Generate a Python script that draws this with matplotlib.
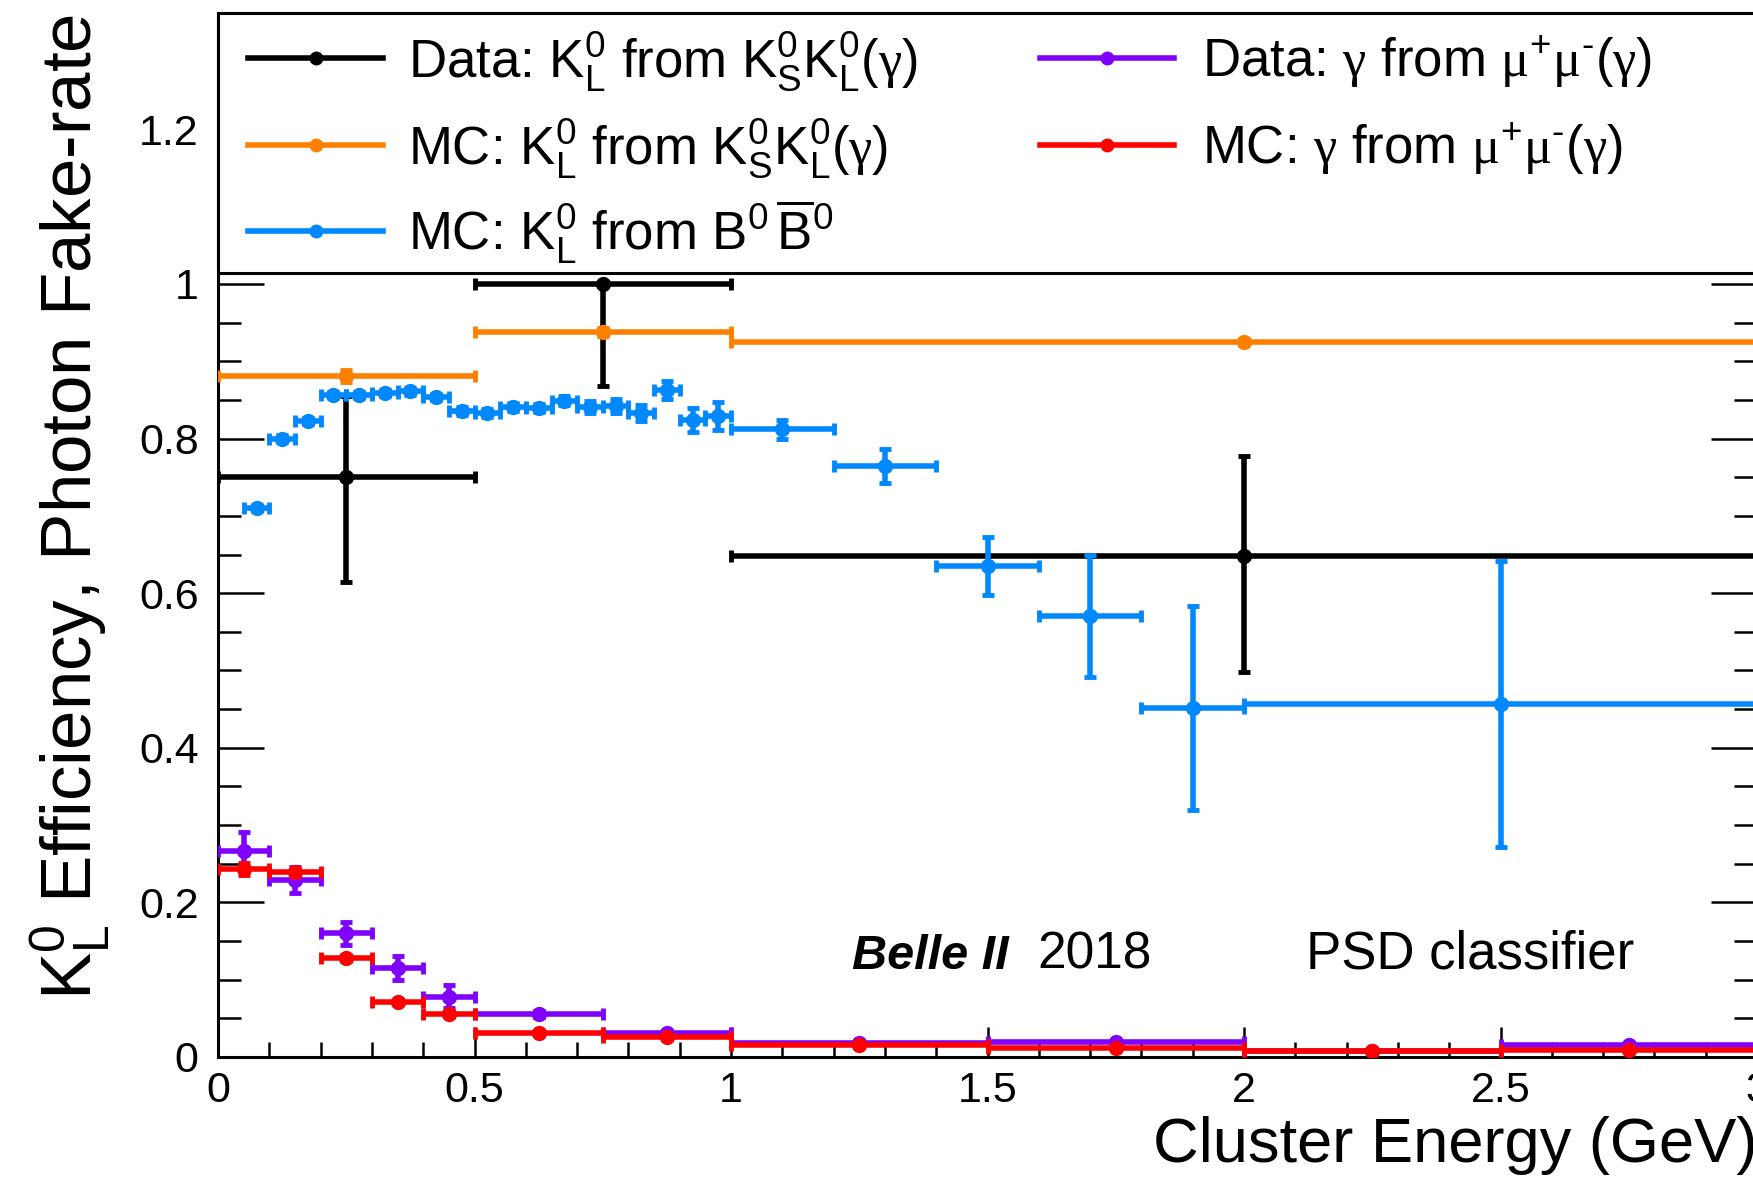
import matplotlib
matplotlib.use("Agg")
import matplotlib.pyplot as plt
from matplotlib.lines import Line2D
from matplotlib.patches import Rectangle
from matplotlib.ticker import MultipleLocator, FuncFormatter

plt.rcParams['font.family'] = ['Liberation Sans', 'DejaVu Sans']
plt.rcParams['mathtext.fontset'] = 'custom'
plt.rcParams['mathtext.rm'] = 'Liberation Sans'
plt.rcParams['mathtext.it'] = 'Liberation Sans:italic'
plt.rcParams['mathtext.bf'] = 'Liberation Sans:bold'
plt.rcParams['mathtext.tt'] = 'Liberation Serif'   # greek letters in symbol style

# K_L efficiency in data, e+e- -> K_S K_L (gamma)
kl_data_x = [0.25, 0.75, 2.0]
kl_data_xerr = [0.25, 0.25, 1.0]
kl_data_y = [0.750, 1.000, 0.648]
kl_data_ylo = [0.135, 0.132, 0.150]
kl_data_yhi = [0.105, 0.000, 0.130]

# K_L efficiency in MC, e+e- -> K_S K_L (gamma)
kl_mc_x = [0.25, 0.75, 2.0]
kl_mc_xerr = [0.25, 0.25, 1.0]
kl_mc_y = [0.881, 0.938, 0.925]
kl_mc_yerr = [0.008, 0.005, 0.004]

# K_L efficiency in MC, B0 B0bar
bb_x = [0.075, 0.125, 0.175, 0.225, 0.275, 0.325, 0.375, 0.425, 0.475, 0.525,
        0.575, 0.625, 0.675, 0.725, 0.775, 0.825, 0.875, 0.925, 0.975,
        1.1, 1.3, 1.5, 1.7, 1.9, 2.5]
bb_xerr = [0.025] * 19 + [0.1] * 5 + [0.5]
bb_y = [0.710, 0.800, 0.823, 0.856, 0.856, 0.859, 0.861, 0.854, 0.836, 0.833,
        0.841, 0.840, 0.849, 0.841, 0.842, 0.833, 0.863, 0.824, 0.829,
        0.812, 0.765, 0.635, 0.571, 0.452, 0.456]
bb_yerr = [0.004, 0.004, 0.004, 0.004, 0.004, 0.004, 0.004, 0.004, 0.005, 0.005,
           0.005, 0.005, 0.006, 0.008, 0.009, 0.010, 0.012, 0.016, 0.018,
           0.012, 0.022, 0.038, 0.079, 0.132, 0.185]

# photon fake rate, e+e- -> mu+ mu- (gamma)
mm_x = [0.05, 0.15, 0.25, 0.35, 0.45, 0.625, 0.875, 1.25, 1.75, 2.25, 2.75]
mm_xerr = [0.05, 0.05, 0.05, 0.05, 0.05, 0.125, 0.125, 0.25, 0.25, 0.25, 0.25]
mm_data_y = [0.267, 0.229, 0.160, 0.115, 0.078, 0.056, 0.031, 0.018, 0.019, 0.008, 0.015]
mm_data_yerr = [0.024, 0.017, 0.015, 0.016, 0.015, 0.004, 0.002, 0.002, 0.002, 0.002, 0.002]
mm_mc_y = [0.243, 0.239, 0.128, 0.071, 0.056, 0.031, 0.026, 0.016, 0.011, 0.008, 0.009]
mm_mc_yerr = [0.008, 0.005, 0.004, 0.003, 0.003, 0.002, 0.002, 0.001, 0.001, 0.001, 0.001]

c_black = '#000000'
c_orange = '#ff8000'
c_blue = '#0088ff'
c_violet = '#7f00ff'
c_red = '#ff0000'

mumu = r'\mathtt{\mu}^{+}\mathtt{\mu}^{HYPH}(\mathtt{\gamma})'.replace('HYPH', '\u2010')
labels = [
    r'Data: $\mathrm{K}_{\mathrm{L}}^{0}$ from $\mathrm{K}_{\mathrm{S}}^{0}\mathrm{K}_{\mathrm{L}}^{0}(\mathtt{\gamma})$',
    r'MC: $\mathrm{K}_{\mathrm{L}}^{0}$ from $\mathrm{K}_{\mathrm{S}}^{0}\mathrm{K}_{\mathrm{L}}^{0}(\mathtt{\gamma})$',
    r'MC: $\mathrm{K}_{\mathrm{L}}^{0}$ from $\mathrm{B}^{0}\,\overline{\mathrm{B}}^{0}$',
    r'Data: $\mathtt{\gamma}$ from $' + mumu + '$',
    r'MC: $\mathtt{\gamma}$ from $' + mumu + '$',
]
colors = [c_black, c_orange, c_blue, c_violet, c_red]

fig = plt.figure(figsize=(17.53, 11.88), dpi=100)
ax = fig.add_axes([0.1244, 0.1103, 0.8779, 0.8784])

style = dict(fmt='o', ms=10, elinewidth=4, capsize=4.5, capthick=3.5)
ax.errorbar(kl_data_x, kl_data_y, xerr=kl_data_xerr, yerr=[kl_data_ylo, kl_data_yhi],
            color=c_black, zorder=3, **style)
ax.errorbar(kl_mc_x, kl_mc_y, xerr=kl_mc_xerr, yerr=kl_mc_yerr, color=c_orange, zorder=3.1, **style)
ax.errorbar(bb_x, bb_y, xerr=bb_xerr, yerr=bb_yerr, color=c_blue, zorder=3.2, **style)
ax.errorbar(mm_x, mm_data_y, xerr=mm_xerr, yerr=mm_data_yerr, color=c_violet, zorder=3.3, **style)
ax.errorbar(mm_x, mm_mc_y, xerr=mm_xerr, yerr=mm_mc_yerr, color=c_red, zorder=3.4, **style)

ax.set_xlim(0, 3)
ax.set_ylim(0, 1.35)

fmt = FuncFormatter(lambda v, p: f'{v:g}')
ax.xaxis.set_major_locator(MultipleLocator(0.5))
ax.xaxis.set_minor_locator(MultipleLocator(0.1))
ax.yaxis.set_major_locator(MultipleLocator(0.2))
ax.yaxis.set_minor_locator(MultipleLocator(0.05))
ax.xaxis.set_major_formatter(fmt)
ax.yaxis.set_major_formatter(fmt)
ax.tick_params(which='both', direction='in', top=True, right=True, width=1.8, labelsize=31)
ax.tick_params(axis='x', which='major', length=21.6, pad=10)
ax.tick_params(axis='x', which='minor', length=10.8)
ax.tick_params(axis='y', which='major', length=33, pad=14)
ax.tick_params(axis='y', which='minor', length=16.5)
for sp in ax.spines.values():
    sp.set_linewidth(2.2)

ax.set_xlabel('Cluster Energy (GeV)', fontsize=45.5, loc='right', labelpad=4)
ax.set_ylabel(r'$\mathrm{K}_{\mathrm{L}}^{0}$ Efficiency, Photon Fake-rate', fontsize=51,
              loc='top')
ax.yaxis.set_label_coords(-0.068, 1.0)

# legend box across the top of the frame
ax.add_patch(Rectangle((0, 1.014), 3.0, 0.336, facecolor='white', edgecolor='black',
                       linewidth=2.2, zorder=5, clip_on=False))
col_x = [(0.0195, 0.1072, 0.1235), (0.5341, 0.6212, 0.6394)]
row_y = [0.9574, 0.874, 0.7916]
slots = [(0, 0), (0, 1), (0, 2), (1, 0), (1, 1)]
for (ci, ri), lab, c in zip(slots, labels, colors):
    x0, x1, xt = col_x[ci]
    y = row_y[ri]
    ax.add_line(Line2D([x0, x1], [y, y], transform=ax.transAxes, color=c, lw=4, zorder=6))
    ax.add_line(Line2D([(x0 + x1) / 2], [y], transform=ax.transAxes, color=c, marker='o',
                       ms=9, zorder=6))
    ax.text(xt, y - 0.018, lab, transform=ax.transAxes, fontsize=38, va='baseline',
            ha='left', zorder=6)

ax.text(1.236, 0.114, 'Belle II', fontsize=35, fontweight='bold', style='italic',
        va='baseline', ha='left', zorder=6)
ax.text(1.597, 0.114, '2018', fontsize=37, va='baseline', ha='left', zorder=6)
ax.text(2.12, 0.114, 'PSD classifier', fontsize=38, va='baseline', ha='left', zorder=6)

fig.savefig('out.png', dpi=100)
